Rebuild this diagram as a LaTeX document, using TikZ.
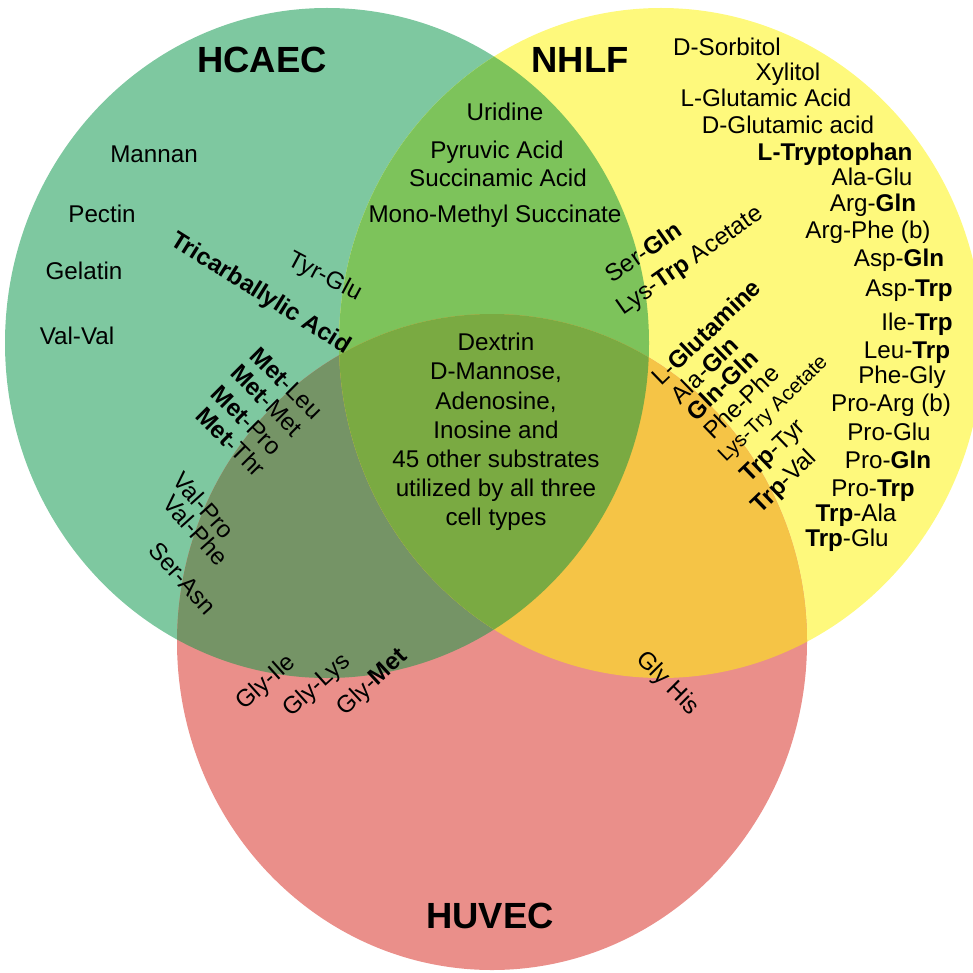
\documentclass[tikz,border=0pt]{standalone}
\usepackage{fontspec}
\setmainfont{Liberation Sans}
\definecolor{cGreen}{HTML}{7EC8A0}
\definecolor{cYellow}{HTML}{FEF97C}
\definecolor{cRed}{HTML}{EA8F8A}
\definecolor{cGY}{HTML}{7DC35B}
\definecolor{cGR}{HTML}{759466}
\definecolor{cYR}{HTML}{F5C446}
\definecolor{cAll}{HTML}{7AAA42}
\begin{document}
\begin{tikzpicture}[x=0.5pt,y=-0.5pt,
  lbl/.style={font=\fontsize{12.1}{14}\selectfont, inner sep=0pt, text height=8.7pt, text depth=0pt},
  smalllbl/.style={font=\fontsize{10.3}{12}\selectfont, inner sep=0pt, text height=7.4pt, text depth=0pt},
  titlelbl/.style={font=\fontsize{18.2}{20}\selectfont\bfseries, inner sep=0pt, text height=13pt, text depth=0pt},
  centertxt/.style={font=\fontsize{12.1}{14.6}\selectfont, align=center, inner sep=0pt}]
\useasboundingbox (0,0) rectangle (973,973);
\clip (0,0) rectangle (973,973);
\coordinate (cG) at (327,343);
\coordinate (cY) at (661,343);
\coordinate (cR) at (492,642);
\tikzset{shapeGY/.style={x radius=161pt, y radius=167.5pt}, shapeR/.style={x radius=157.5pt, y radius=164pt}}
% circles
\fill[cGreen] (cG) ellipse[shapeGY];
\fill[cYellow] (cY) ellipse[shapeGY];
\fill[cRed] (cR) ellipse[shapeR];
\begin{scope}\clip (cG) ellipse[shapeGY]; \fill[cGY] (cY) ellipse[shapeGY];\end{scope}
\begin{scope}\clip (cG) ellipse[shapeGY]; \fill[cGR] (cR) ellipse[shapeR];\end{scope}
\begin{scope}\clip (cY) ellipse[shapeGY]; \fill[cYR] (cR) ellipse[shapeR];\end{scope}
\begin{scope}\clip (cG) ellipse[shapeGY]; \clip (cY) ellipse[shapeGY]; \fill[cAll] (cR) ellipse[shapeR];\end{scope}
% titles
\node[titlelbl] (tH) at (262,60) {HCAEC};
\node[titlelbl] (tN) at (580,60) {NHLF};
\node[titlelbl] (tU) at (490,915) {HUVEC};
% HCAEC only
\node[lbl] (m1) at (154,154) {Mannan};
\node[lbl] (m2) at (102,214) {Pectin};
\node[lbl] (m3) at (84,271) {Gelatin};
\node[lbl] (m4) at (77,336) {Val-Val};
\node[lbl, rotate=-32] (m5) at (262,292) {\textbf{Tricarballylic Acid}};
\node[lbl, rotate=-28] (m6) at (326,275) {Tyr-Glu};
% HCAEC & NHLF
\node[lbl] (n1) at (505,112) {Uridine};
\node[lbl] (n2) at (497,150) {Pyruvic Acid};
\node[lbl] (n3) at (498,178) {Succinamic Acid};
\node[lbl] (n4) at (495,214) {Mono-Methyl Succinate};
% HCAEC & HUVEC
\node[lbl, rotate=-45] (h1) at (287,383) {\textbf{Met}-Leu};
\node[lbl, rotate=-45] (h2) at (267,400) {\textbf{Met}-Met};
\node[lbl, rotate=-45] (h3) at (247,420) {\textbf{Met}-Pro};
\node[lbl, rotate=-45] (h4) at (231,442) {\textbf{Met}-Thr};
\node[lbl, rotate=-48] (h5) at (204,505) {Val-Pro};
\node[lbl, rotate=-48] (h6) at (196,530) {Val-Phe};
\node[lbl, rotate=-48] (h7) at (183,578) {Ser-Asn};
\node[lbl, rotate=42] (h8) at (265,681) {Gly-Ile};
\node[lbl, rotate=42] (h9) at (316,684) {Gly-Lys};
\node[lbl, rotate=43] (h10) at (371,681) {Gly-\textbf{Met}};
% centre
\node[centertxt] (c1) at (496,432) {Dextrin\\D-Mannose,\\Adenosine,\\Inosine and\\45 other substrates\\utilized by all three\\cell types};
% NHLF & HUVEC
\node[lbl, rotate=-45] (y1) at (669,682) {Gly His};
% NHLF side, near HCAEC boundary
\node[lbl, rotate=35] (s1) at (643,252) {Ser-\textbf{Gln}};
\node[lbl, rotate=35] (s2) at (689,259) {Lys-\textbf{Trp} Acetate};
\node[lbl, rotate=44] (s3) at (706,332) {L-\textbf{Glutamine}};
\node[lbl, rotate=44] (s4) at (704,370) {Ala-\textbf{Gln}};
\node[lbl, rotate=44] (s5) at (722,385) {\textbf{Gln-Gln}};
\node[lbl, rotate=44] (s6) at (741,402) {Phe-Phe};
\node[smalllbl, rotate=44] (s7) at (772,408) {Lys-Try Acetate};
\node[lbl, rotate=44] (s8) at (772,450) {\textbf{Trp}-Tyr};
\node[lbl, rotate=44] (s9) at (783,481) {\textbf{Trp}-Val};
% NHLF only
\node[lbl] (r1) at (727,47) {D-Sorbitol};
\node[lbl] (r2) at (788,72) {Xylitol};
\node[lbl] (r3) at (766,98) {L-Glutamic Acid};
\node[lbl] (r4) at (788,125) {D-Glutamic acid};
\node[lbl] (r5) at (835,152) {\textbf{L-Tryptophan}};
\node[lbl] (r6) at (872,177) {Ala-Glu};
\node[lbl] (r7) at (873,203) {Arg-\textbf{Gln}};
\node[lbl] (r8) at (868,230) {Arg-Phe (b)};
\node[lbl] (r9) at (899,258) {Asp-\textbf{Gln}};
\node[lbl] (r10) at (909,288) {Asp-\textbf{Trp}};
\node[lbl] (r11) at (917,322) {Ile-\textbf{Trp}};
\node[lbl] (r12) at (907,350) {Leu-\textbf{Trp}};
\node[lbl] (r13) at (902,375) {Phe-Gly};
\node[lbl] (r14) at (891,403) {Pro-Arg (b)};
\node[lbl] (r15) at (889,432) {Pro-Glu};
\node[lbl] (r16) at (888,460) {Pro-\textbf{Gln}};
\node[lbl] (r17) at (873,488) {Pro-\textbf{Trp}};
\node[lbl] (r18) at (856,513) {\textbf{Trp}-Ala};
\node[lbl] (r19) at (847,538) {\textbf{Trp}-Glu};
\end{tikzpicture}
\end{document}
